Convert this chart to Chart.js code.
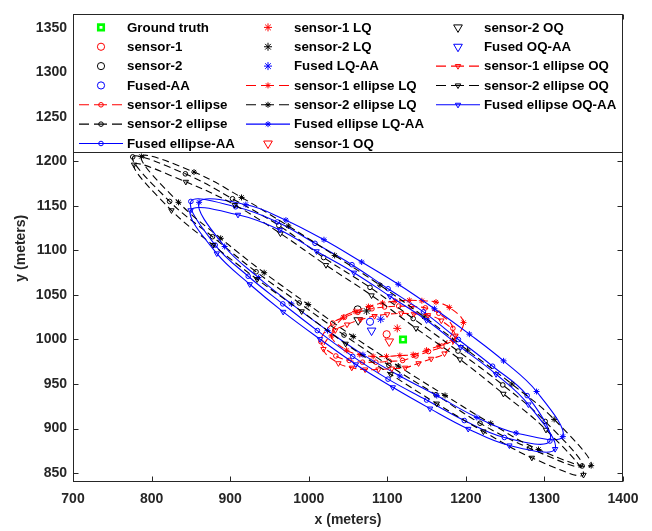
<!DOCTYPE html>
<html lang="en">
<head>
<meta charset="utf-8">
<title>Fused ellipses</title>
<script src="https://cdn.jsdelivr.net/npm/chart.js@4.4.0/dist/chart.umd.min.js"></script>
<style>
  html, body { margin: 0; padding: 0; background: #fff; }
  #wrap { width: 652px; height: 531px; position: relative; }
</style>
</head>
<body>
<div id="wrap"><canvas id="c"></canvas></div>
<script>
// axis ticks
const xTicks = [700, 800, 900, 1000, 1100, 1200, 1300, 1400];
const yTicks = [850, 900, 950, 1000, 1050, 1100, 1150, 1200, 1250, 1300, 1350];

// point estimates [x, y]
const truthPt   = [[1120, 1000]];
const s1Pt      = [[1099.2, 1005.9]];
const s2Pt      = [[1062.3, 1033.8]];
const fusedPt   = [[1078, 1019.9]];
const s1LqPt    = [[1112.7, 1012.5]];
const s2LqPt    = [[1073.7, 1032]];
const fusedLqPt = [[1091.6, 1022.8]];
const s1OqPt    = [[1102.5, 997.8]];
const s2OqPt    = [[1063, 1021.6]];
const fusedOqPt = [[1080, 1010]];

// ellipse marker points, in drawing order
const s1Ell = [[1183.5,1012.5],[1165.5,1029.5],[1148.5,1035.5],[1130.5,1037],[1114.5,1037.5],[1096.5,1036.5],
  [1080.5,1034.5],[1062.5,1030.5],[1045.5,1025],[1030.5,1018.5],[1015.5,997.5],[1034.5,981.5],[1051.5,976.5],
  [1068.5,974.5],[1085.5,974.5],[1102.5,975.5],[1119.5,976.5],[1136.5,981.5],[1152.5,986.5],[1169.5,992.5]];
const s2Ell = [[776,1205],[843,1186],[903,1158],[962,1128],[1019,1092],[1078,1058.5],[1133,1023.5],[1190,987],
  [1247,949],[1301,908],[1348,858],[1281,878],[1218,906],[1162,938],[1102,971],[1045,1005],[988,1041],
  [933,1076],[877.6,1115.4],[823,1155]];
const fusedEll = [[850,1155],[907,1149],[960,1132],[1008,1108],[1055,1084],[1101,1057],[1146,1031],[1190.5,1000],
  [1234,970],[1278,937],[1307,886],[1249,890],[1198,909],[1150,932],[1101,955.5],[1056,981],[1011,1010],
  [967,1040],[923,1071],[881,1106]];

const s1EllLq = [[1197,1019],[1179,1036],[1162,1042],[1144,1043.5],[1128,1044],[1110,1043],[1094,1041],[1076,1037],
  [1059,1031.5],[1044,1025],[1029,1004],[1048,988],[1065,983],[1082,981],[1099,981],[1116,982],[1133,983],
  [1150,988],[1166,993],[1183,999]];
const s2EllLq = [[787,1205.5],[854,1188],[914.5,1159.5],[974,1127.5],[1033,1094.4],[1090.7,1061],[1147,1025.4],
  [1202,988],[1258.5,950],[1312.4,910.3],[1359.5,858.4],[1292.4,876.5],[1231.7,905.8],[1173.5,937.2],
  [1114,970.2],[1056.7,1003.3],[999.4,1039.3],[943.3,1075],[888,1113.6],[834.3,1154]];
const fusedEllLq = [[860.5,1154],[920,1151.5],[971,1134],[1019.4,1112],[1067.4,1087],[1114,1062],[1160,1034.5],
  [1204.5,1006],[1248,976],[1290,941.6],[1323.4,891],[1264,895],[1214,912.5],[1163,937],[1116,959],
  [1069,983],[1024,1010],[978,1040],[936,1069.5],[893,1104.4]];

const s1EllOq = [[1186.8,1004.3],[1168.8,1021.3],[1151.8,1027.3],[1133.8,1028.8],[1117.8,1029.3],[1099.8,1028.3],
  [1083.8,1026.3],[1065.8,1022.3],[1048.8,1016.8],[1033.8,1010.3],[1018.8,989.3],[1037.8,973.3],[1054.8,968.3],
  [1071.8,966.3],[1088.8,966.3],[1105.8,967.3],[1122.8,968.3],[1139.8,973.3],[1155.8,978.3],[1172.8,984.3]];
const s2EllOq = [[777.7,1196.3],[843.6,1177],[906,1151],[964,1119],[1022,1083.5],[1080,1049.5],[1136.6,1012.5],
  [1192.6,977.6],[1247.8,939],[1302,898.6],[1349.7,848],[1284,867.2],[1222.3,896.7],[1163,928],[1104.3,961],
  [1047,995.2],[991,1031.6],[934.4,1067.6],[878.3,1106],[825.3,1145]];
const fusedEllOq = [[849.6,1145],[910,1140],[963.3,1123],[1010,1099],[1057.6,1075],[1103.4,1048.5],[1150,1021.6],
  [1193.5,991.5],[1238.5,961],[1279.6,927],[1313.6,877],[1255.4,881],[1203,899.6],[1154.4,922.4],[1107,946.3],
  [1060,972],[1014.3,1000.4],[967.5,1031],[925,1062],[883,1096.6]];

const RED = '#ff0000', BLK = '#000000', BLU = '#0000ff', GRN = '#00ff00';

// legend order = plot order (3 columns of 7 rows)
const series = [
  {label: 'Ground truth',        data: truthPt,    color: GRN, mark: 'rect',     r: 3.9, bw: 2.6, fill: '#ffffff'},
  {label: 'sensor-1',            data: s1Pt,       color: RED, mark: 'circle',   r: 3.6},
  {label: 'sensor-2',            data: s2Pt,       color: BLK, mark: 'circle',   r: 3.6},
  {label: 'Fused-AA',            data: fusedPt,    color: BLU, mark: 'circle',   r: 3.6},
  {label: 'sensor-1 ellipse',    data: s1Ell,      color: RED, mark: 'circle',   r: 2.3, line: 'dash'},
  {label: 'sensor-2 ellipse',    data: s2Ell,      color: BLK, mark: 'circle',   r: 2.3, line: 'dash'},
  {label: 'Fused ellipse-AA',    data: fusedEll,   color: BLU, mark: 'circle',   r: 2.3, line: 'solid'},
  {label: 'sensor-1 LQ',         data: s1LqPt,     color: RED, mark: 'star',     r: 4},
  {label: 'sensor-2 LQ',         data: s2LqPt,     color: BLK, mark: 'star',     r: 4},
  {label: 'Fused LQ-AA',         data: fusedLqPt,  color: BLU, mark: 'star',     r: 4},
  {label: 'sensor-1 ellipse LQ', data: s1EllLq,    color: RED, mark: 'star',     r: 3, line: 'dash'},
  {label: 'sensor-2 ellipse LQ', data: s2EllLq,    color: BLK, mark: 'star',     r: 3, line: 'dash'},
  {label: 'Fused ellipse LQ-AA', data: fusedEllLq, color: BLU, mark: 'star',     r: 3, line: 'solid'},
  {label: 'sensor-1 OQ',         data: s1OqPt,     color: RED, mark: 'triangle', r: 5, rot: 180},
  {label: 'sensor-2 OQ',         data: s2OqPt,     color: BLK, mark: 'triangle', r: 5, rot: 180},
  {label: 'Fused OQ-AA',         data: fusedOqPt,  color: BLU, mark: 'triangle', r: 5, rot: 180},
  {label: 'sensor-1 ellipse OQ', data: s1EllOq,    color: RED, mark: 'triangle', r: 3.1, rot: 180, line: 'dash'},
  {label: 'sensor-2 ellipse OQ', data: s2EllOq,    color: BLK, mark: 'triangle', r: 3.1, rot: 180, line: 'dash'},
  {label: 'Fused ellipse OQ-AA', data: fusedEllOq, color: BLU, mark: 'triangle', r: 3.1, rot: 180, line: 'solid'}
];

const FONT = '"Liberation Sans", Arial, Helvetica, sans-serif';
const AXIS_COLOR = '#262626';
Chart.defaults.font.family = FONT;

// ellipses are closed curves: let the line element wrap round like a radar line
const closeLoops = {
  id: 'closeLoops',
  beforeDatasetsDraw(chart) {
    chart.data.datasets.forEach((ds, i) => {
      const line = chart.getDatasetMeta(i).dataset;
      if (!ds.closed || !line) return;
      line._loop = true;
      line._fullLoop = true;
      delete line._segments;
      delete line._path;
      line._pointsUpdated = false;
      line.updateControlPoints(chart.chartArea, 'x');
    });
  }
};

// matlab style box with inward ticks
const axesBox = {
  id: 'axesBox',
  afterDatasetsDraw(chart) {
    const {ctx, chartArea: a, scales} = chart;
    const L = Math.round(a.left) + 0.5, R = Math.round(a.right) - 0.5;
    const T = Math.round(a.top) + 0.5, B = Math.round(a.bottom) - 0.5;
    ctx.save();
    ctx.strokeStyle = AXIS_COLOR;
    ctx.lineWidth = 1;
    ctx.strokeRect(L, T, R - L, B - T);
    ctx.beginPath();
    xTicks.forEach(v => {
      const px = Math.round(scales.x.getPixelForValue(v)) + 0.5;
      ctx.moveTo(px, B); ctx.lineTo(px, B - 5);
      ctx.moveTo(px, T); ctx.lineTo(px, T + 5);
    });
    yTicks.forEach(v => {
      const py = Math.round(scales.y.getPixelForValue(v)) + 0.5;
      ctx.moveTo(L, py); ctx.lineTo(L + 5, py);
      ctx.moveTo(R, py); ctx.lineTo(R - 5, py);
    });
    ctx.stroke();
    ctx.restore();
  }
};

// legend inside the axes, filled column by column
const legendColX = [28, 195, 385];
const matLegend = {
  id: 'matLegend',
  afterDraw(chart) {
    const {ctx, chartArea: a} = chart;
    const top = Math.round(a.top) + 0.5, bottom = top + 138;
    const L = Math.round(a.left) + 0.5, R = Math.round(a.right) - 0.5;
    ctx.save();
    ctx.fillStyle = '#ffffff';
    ctx.fillRect(L, top, R - L, bottom - top);
    ctx.strokeStyle = AXIS_COLOR;
    ctx.lineWidth = 1;
    ctx.strokeRect(L, top, R - L, bottom - top);
    ctx.font = 'bold 13.3px ' + FONT;
    ctx.textBaseline = 'middle';
    series.forEach((s, i) => {
      const col = Math.floor(i / 7), row = i % 7;
      const mx = a.left + legendColX[col], my = a.top + 13 + row * 19.35;
      if (s.line) {
        ctx.strokeStyle = s.color;
        ctx.lineWidth = 1.1;
        ctx.setLineDash(s.line === 'dash' ? [10, 5, 13, 5, 10] : []);
        ctx.beginPath();
        ctx.moveTo(mx - 22, my);
        ctx.lineTo(mx + 22, my);
        ctx.stroke();
        ctx.setLineDash([]);
      }
      ctx.strokeStyle = s.color;
      ctx.fillStyle = s.fill || 'rgba(0,0,0,0)';
      ctx.lineWidth = s.bw || 1;
      Chart.helpers.drawPoint(ctx, {pointStyle: s.mark, radius: s.r, rotation: s.rot || 0, borderWidth: s.bw || 1}, mx, my);
      ctx.fillStyle = '#000000';
      ctx.fillText(s.label, mx + 26, my + 0.5);
    });
    ctx.restore();
  }
};

new Chart('c', {
  type: 'scatter',
  data: {
    datasets: series.map((s, i) => ({
      label: s.label,
      data: s.data.map(p => ({x: p[0], y: p[1]})),
      showLine: !!s.line,
      closed: !!s.line,
      borderColor: s.color,
      borderWidth: 1.1,
      borderDash: s.line === 'dash' ? [7, 4] : [],
      tension: s.line ? 0.38 : 0,
      fill: false,
      pointStyle: s.mark,
      pointRadius: s.r,
      pointHoverRadius: s.r,
      pointRotation: s.rot || 0,
      pointBorderColor: s.color,
      pointBackgroundColor: s.fill || 'rgba(0,0,0,0)',
      pointBorderWidth: s.bw || 1,
      order: -i
    }))
  },
  options: {
    responsive: true,
    maintainAspectRatio: false,
    animation: false,
    events: [],
    layout: { padding: { top: 5, right: 29, left: 0, bottom: 0 } },
    plugins: { legend: { display: false }, tooltip: { enabled: false } },
    scales: {
      x: {
        type: 'linear', min: 700, max: 1400,
        afterBuildTicks: s => { s.ticks = xTicks.map(v => ({value: v})); },
        afterFit: s => { s.height = 49; },
        grid: { display: false, drawTicks: false },
        border: { display: false },
        ticks: { padding: 8.6, color: AXIS_COLOR, maxRotation: 0, callback: v => String(v), font: { size: 14, weight: 'bold' } },
        title: { display: true, text: 'x (meters)', color: AXIS_COLOR, padding: { top: 0, bottom: 2 }, font: { size: 14, weight: 'bold' } }
      },
      y: {
        type: 'linear', min: 840, max: 1365,
        afterBuildTicks: s => { s.ticks = yTicks.map(v => ({value: v})); },
        afterFit: s => { s.width = 73; },
        grid: { display: false, drawTicks: false },
        border: { display: false },
        ticks: { padding: 6, color: AXIS_COLOR, callback: v => String(v), font: { size: 14, weight: 'bold' } },
        title: { display: true, text: 'y (meters)', color: AXIS_COLOR, padding: { top: 13, bottom: 0 }, font: { size: 14, weight: 'bold' } }
      }
    }
  },
  plugins: [closeLoops, axesBox, matLegend]
});
</script>
</body>
</html>
